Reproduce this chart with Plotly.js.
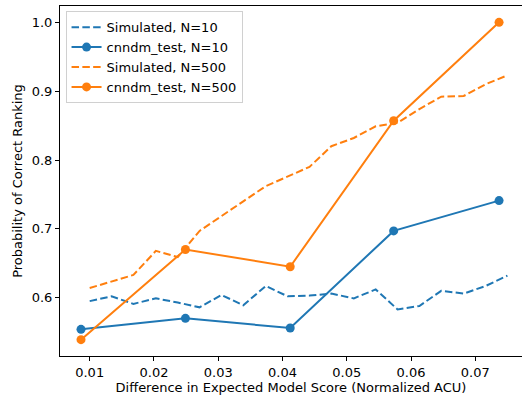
<!DOCTYPE html>
<html>
<head>
<meta charset="utf-8">
<script src="https://cdn.plot.ly/plotly-3.0.1.min.js"></script>
<style>html,body{margin:0;padding:0;background:#fff;}#chart{width:522px;height:400px;}</style>
</head>
<body>
<div id="chart"></div>
<script>
// Simulated curves: 20 evenly spaced points from 0.01 to 0.075
const simX = [0.0100,0.0134,0.0168,0.0203,0.0237,0.0271,0.0305,0.0339,0.0374,0.0408,
              0.0442,0.0476,0.0511,0.0545,0.0579,0.0613,0.0647,0.0682,0.0716,0.0750];
const simN10 = [0.595,0.602,0.591,0.599,0.593,0.586,0.604,0.589,0.617,0.602,
                0.603,0.606,0.599,0.612,0.583,0.588,0.610,0.606,0.617,0.632];
const simN500 = [0.614,0.623,0.633,0.668,0.659,0.697,0.719,0.740,0.762,0.776,
                 0.790,0.820,0.832,0.849,0.854,0.874,0.892,0.893,0.910,0.923];
// cnndm_test measured points
const testX = [0.00865,0.0249,0.0412,0.0573,0.0737];
const testN10 = [0.554,0.570,0.556,0.697,0.741];
const testN500 = [0.539,0.670,0.645,0.857,1.000];
const xTicks = [0.01,0.02,0.03,0.04,0.05,0.06,0.07];
const yTicks = [0.6,0.7,0.8,0.9,1.0];

const blue = '#1f77b4', orange = '#ff7f0e';
const font = {family: 'DejaVu Sans', size: 13, color: '#000'};

const traces = [
  {x: simX, y: simN10, mode: 'lines', name: 'Simulated, N=10',
   line: {color: blue, width: 2, dash: '7.5px,3.3px'}},
  {x: testX, y: testN10, mode: 'lines+markers', name: 'cnndm_test, N=10',
   line: {color: blue, width: 2}, marker: {color: blue, size: 9}},
  {x: simX, y: simN500, mode: 'lines', name: 'Simulated, N=500',
   line: {color: orange, width: 2, dash: '7.5px,3.3px'}},
  {x: testX, y: testN500, mode: 'lines+markers', name: 'cnndm_test, N=500',
   line: {color: orange, width: 2}, marker: {color: orange, size: 9}}
];

const layout = {
  width: 522, height: 400,
  margin: {l: 60, r: 0, t: 6, b: 44},
  paper_bgcolor: '#fff', plot_bgcolor: '#fff',
  font: font,
  showlegend: true,
  legend: {x: 0.012, y: 0.985, xanchor: 'left', yanchor: 'top',
           bgcolor: 'rgba(255,255,255,0.8)', bordercolor: '#d0d0d0', borderwidth: 1,
           font: {family: 'DejaVu Sans', size: 13, color: '#000'},
           tracegroupgap: 0, itemwidth: 30},
  xaxis: {range: [0.00538, 0.07727], tickvals: xTicks, ticktext: xTicks.map(v => v.toFixed(2)),
          showgrid: false, zeroline: false, showline: true, linecolor: '#000', linewidth: 1,
          mirror: true, ticks: 'outside', ticklen: 4, tickcolor: '#000', tickwidth: 1,
          tickfont: font,
          title: {text: 'Difference in Expected Model Score (Normalized ACU)', font: font, standoff: 4}},
  yaxis: {range: [0.5153, 1.0237], tickvals: yTicks, ticktext: yTicks.map(v => v.toFixed(1)),
          showgrid: false, zeroline: false, showline: true, linecolor: '#000', linewidth: 1,
          mirror: false, ticks: 'outside', ticklen: 4, tickcolor: '#000', tickwidth: 1,
          tickfont: font,
          title: {text: 'Probability of Correct Ranking', font: font, standoff: 6}}
};

Plotly.newPlot('chart', traces, layout, {displayModeBar: false, staticPlot: true});
</script>
</body>
</html>
